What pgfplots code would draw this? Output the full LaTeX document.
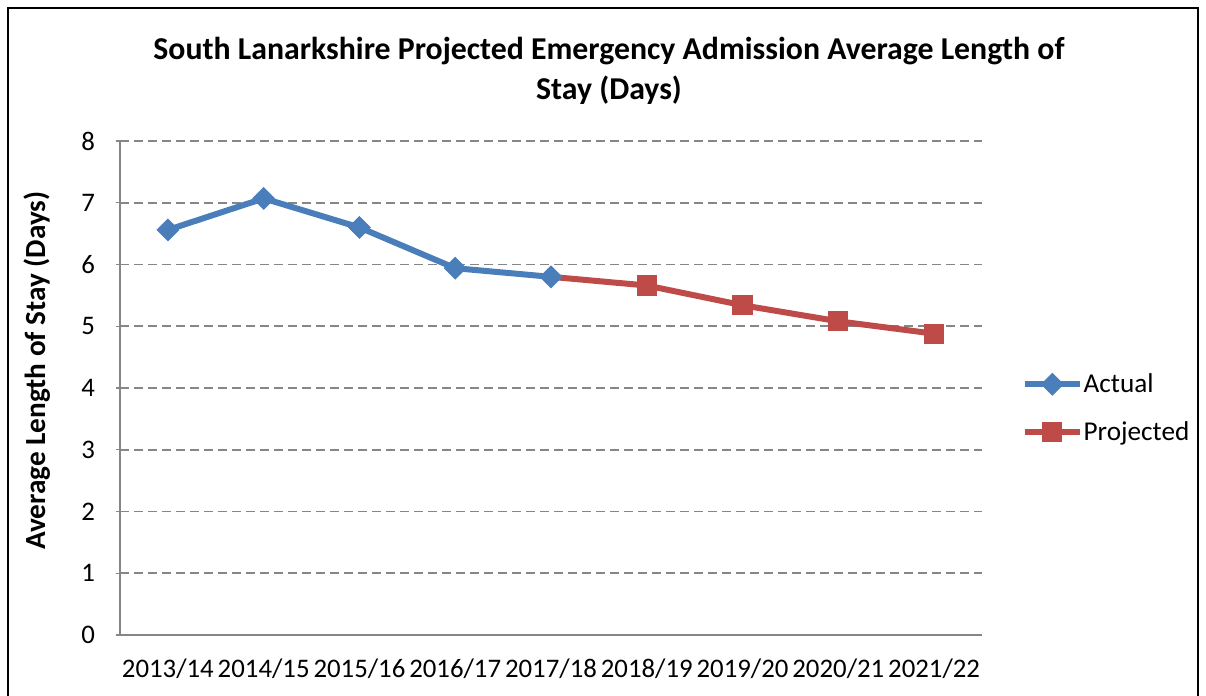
\documentclass[border=0pt]{standalone}
\usepackage{fontspec}
\setmainfont{Carlito}
\usepackage{pgfplots}
\pgfplotsset{compat=1.18}
\definecolor{actual}{HTML}{4A7EBB}
\definecolor{proj}{HTML}{BE4B48}
\definecolor{gridgray}{HTML}{868686}

\begin{document}
\begin{tikzpicture}
% page box: 1206x696 px at 0.5pt per px
\path[use as bounding box] (-60pt,-30.5pt) rectangle (543pt,317.5pt);
\draw[black, line width=0.9pt] (-56pt,-40pt) rectangle (539pt,313.5pt);
\begin{axis}[
  scale only axis,
  width=431pt, height=247pt,
  at={(0,0)}, anchor=south west,
  xmin=-0.5, xmax=8.5,
  ymin=0, ymax=8,
  ytick={0,1,...,8},
  xtick={0,...,8},
  xticklabels={2013/14,2014/15,2015/16,2016/17,2017/18,2018/19,2019/20,2020/21,2021/22},
  minor xtick={-0.5,0.5,...,8.5},
  xtick style={draw=none},
  minor tick length=3.5pt,
  major tick length=4pt,
  tick align=outside,
  tick style={gridgray, line width=0.7pt},
  axis lines=left,
  axis line style={-, gridgray, line width=0.8pt},
  ymajorgrids,
  major grid style={gridgray, line width=0.9pt, dash pattern=on 4.5pt off 2.5pt},
  ticklabel style={font=\fontsize{13.4}{15}\selectfont},
  /pgf/number format/assume math mode=true,
  yticklabel style={xshift=-7pt},
  xticklabel style={yshift=-6.5pt},
  ylabel={\bfseries Average Length of Stay (Days)},
  ylabel style={font=\fontsize{14.6}{16}\selectfont, at={(axis description cs:-0.096,0.535)}, anchor=center},
  legend style={draw=none, fill=none, at={(axis description cs:1.046,0.459)}, anchor=west,
    font=\fontsize{13.6}{15}\selectfont, row sep=9pt, inner sep=0pt,
    nodes={inner xsep=0.5pt}},
  legend cell align=left,
  legend image code/.code={
    \draw[#1, mark repeat=2, mark phase=2] plot coordinates {(0cm,0cm) (0.48cm,0cm) (0.96cm,0cm)};
  },
]
\addplot[actual, line width=3pt, mark=square*, mark size=3.8pt,
  mark options={rotate=45, line width=0.5pt, solid}]
  coordinates {(0,6.56) (1,7.07) (2,6.60) (3,5.94) (4,5.80)};
\addlegendentry{Actual}
% link from the last actual year to the first projected one
\addplot[proj, line width=3pt, forget plot] coordinates {(4,5.80) (5,5.66)};
\addplot[proj, line width=3pt, mark=square*, mark size=4.8pt,
  mark options={line width=0.5pt, solid}]
  coordinates {(5,5.66) (6,5.34) (7,5.08) (8,4.88)};
\addlegendentry{Projected}
\end{axis}
\node[font=\bfseries\fontsize{15.9}{20}\selectfont, align=center] at (244.5pt,282pt)
  {South Lanarkshire Projected Emergency Admission Average Length of\\Stay (Days)};
\end{tikzpicture}
\end{document}
